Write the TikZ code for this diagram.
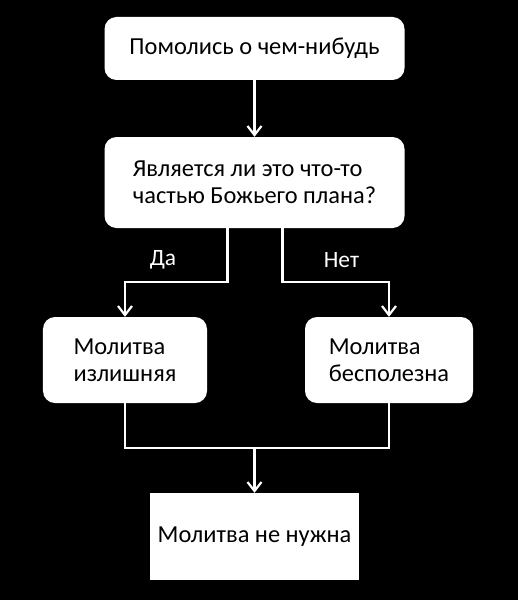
\documentclass[tikz,border=0pt]{standalone}
\usepackage{fontspec}
\setmainfont{Carlito}
\usetikzlibrary{positioning,arrows.meta}

\tikzset{
  block/.style={rectangle, rounded corners=12bp, fill=white, text=black,
    font=\fontsize{24.5}{27}\selectfont, align=left, inner sep=0pt},
  link/.style={draw=white, line width=2.2bp},
  answer/.style={text=white, font=\fontsize{23.5}{27}\selectfont, inner sep=0pt},
}

\begin{document}
\begin{tikzpicture}[x=1bp,y=1bp,node distance=134bp,on grid,
    >={Straight Barb[length=9bp,width=14bp]}]
    \fill[black] (0,0) rectangle (518,-600);
    % boxes
    \node[block,minimum width=300bp,minimum height=63bp] (pray) at (254.5,-48.5) {Помолись о чем-нибудь};
    \node[block,minimum width=300bp,minimum height=91bp] (plan) [below=of pray] {Является ли это что-то\\частью Божьего плана?};
    \node[block,minimum width=164bp,minimum height=86bp] (excess) [below left=177.5bp and 129.5bp of plan] {Молитва\\излишняя};
    \node[block,minimum width=168bp,minimum height=86bp] (useless) [below right=177.5bp and 134.5bp of plan] {Молитва\\бесполезна};
    \node[block,sharp corners,minimum width=209bp,minimum height=87bp] (noneed) [below=354bp of plan] {Молитва не нужна};
    % connectors
    \coordinate (yes) at ([xshift=-27bp,yshift=-54bp]plan.south);
    \coordinate (no)  at ([xshift=28bp,yshift=-54bp]plan.south);
    \coordinate (merge) at ([yshift=45bp]noneed.north);
    \draw[link,->] (pray) -- (plan);
    \draw[link,->] (plan.south -| yes) -- (yes) -| (excess);
    \draw[link,->] (plan.south -| no) -- (no) -| (useless);
    \node[answer] (yeslbl) at ([xshift=-64.5bp,yshift=22bp]yes) {Да};
    \node[answer] (nolbl)  at ([xshift=59bp,yshift=22bp]no) {Нет};
    \draw[link] (excess) |- (merge) -| (useless);
    \draw[link,->] (merge) -- (noneed);
\end{tikzpicture}
\end{document}
